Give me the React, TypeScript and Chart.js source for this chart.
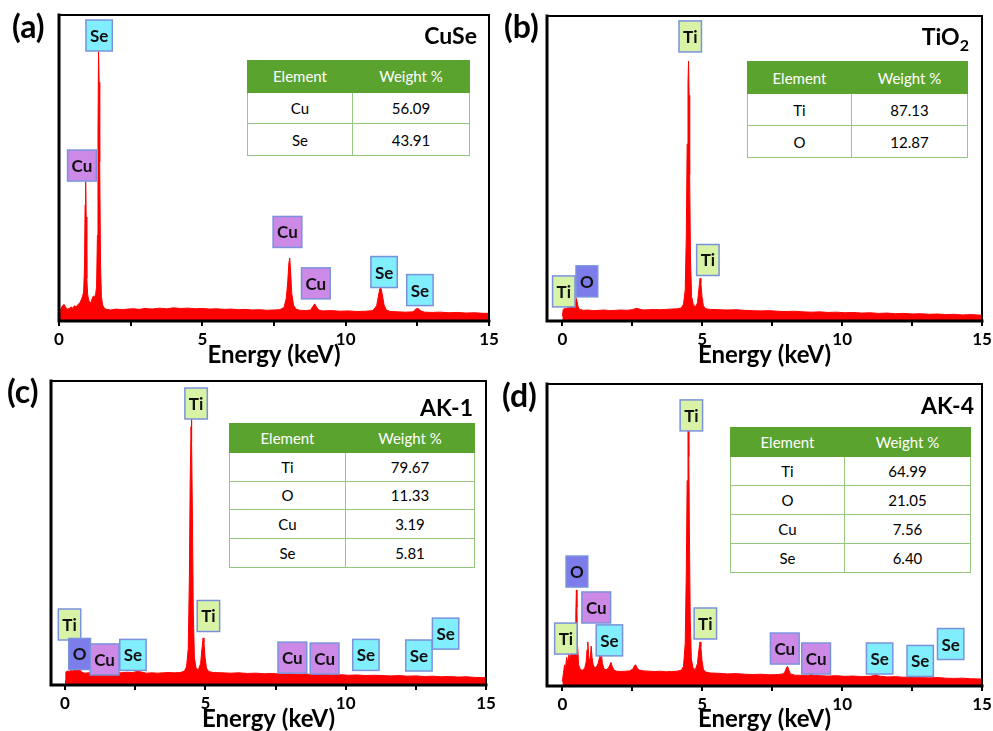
import React, { useEffect, useRef } from "react";
import { Chart, registerables } from "chart.js";

Chart.register(...registerables);

const PAGE_W = 993;
const PAGE_H = 731;
const FONT = "Lato, 'Open Sans', 'DejaVu Sans', sans-serif";

// ---------------- data ----------------
const xTickValues = [0, 2.5, 5, 7.5, 10, 12.5, 15];
const xTickLabels = ["0", "", "5", "", "10", "", "15"];

// (a) CuSe spectrum
const cuseEnergy = [0.0, 0.06, 0.12, 0.18, 0.24, 0.3, 0.36, 0.42, 0.48, 0.54, 0.6, 0.66, 0.72, 0.78, 0.82, 0.86, 0.89, 0.91, 0.93, 0.95, 0.97, 1.0, 1.04, 1.08, 1.12, 1.16, 1.2, 1.24, 1.28, 1.31, 1.34, 1.36, 1.38, 1.4, 1.42, 1.45, 1.48, 1.52, 1.58, 1.66, 1.8, 2.0, 2.2, 2.4, 2.6, 2.8, 3.0, 3.25, 3.5, 3.75, 4.0, 4.25, 4.5, 4.75, 5.0, 5.25, 5.5, 5.75, 6.0, 6.25, 6.5, 6.75, 7.0, 7.25, 7.5, 7.7, 7.85, 7.93, 7.98, 8.02, 8.05, 8.08, 8.12, 8.18, 8.26, 8.4, 8.6, 8.78, 8.86, 8.92, 8.98, 9.06, 9.2, 9.5, 9.8, 10.1, 10.4, 10.7, 10.95, 11.08, 11.14, 11.19, 11.23, 11.28, 11.34, 11.42, 11.55, 11.8, 12.1, 12.35, 12.45, 12.52, 12.6, 12.75, 13.0, 13.3, 13.6, 13.9, 14.2, 14.5, 14.8, 15.0];
const cuseCounts = [2.0, 3.8, 5.0, 5.4, 4.3, 3.9, 4.1, 4.6, 4.2, 5.0, 4.6, 5.4, 5.8, 7.0, 8.0, 9.5, 18, 38, 45.5, 34, 14, 8.5, 6.8, 5.8, 6.2, 7.4, 8.2, 7.6, 9.0, 11, 28, 62, 88.6, 78, 52, 18, 8, 5.2, 4.2, 3.8, 3.6, 3.9, 3.7, 3.9, 4.0, 3.8, 4.1, 3.9, 4.2, 4.0, 4.3, 4.1, 4.2, 4.0, 4.1, 3.9, 4.0, 3.8, 3.9, 3.7, 3.8, 3.6, 3.7, 3.5, 3.6, 3.7, 4.4, 7.5, 13, 19, 20.6, 16, 9, 5.2, 3.9, 3.5, 3.4, 3.6, 4.8, 5.6, 4.6, 3.6, 3.3, 3.4, 3.2, 3.3, 3.1, 3.2, 3.4, 5.0, 8.0, 10.6, 10.8, 8.5, 5.2, 3.6, 3.1, 3.0, 2.9, 3.0, 3.9, 4.2, 3.4, 2.9, 2.8, 2.9, 2.7, 2.8, 2.6, 2.7, 2.5, 2.5];

// (b) TiO2 spectrum
const tio2Energy = [0.0, 0.03, 0.08, 0.14, 0.2, 0.26, 0.32, 0.38, 0.43, 0.47, 0.5, 0.53, 0.56, 0.62, 0.75, 0.9, 1.1, 1.3, 1.5, 1.7, 1.9, 2.1, 2.3, 2.5, 2.65, 2.75, 2.9, 3.1, 3.3, 3.5, 3.7, 3.9, 4.1, 4.25, 4.33, 4.39, 4.43, 4.46, 4.49, 4.51, 4.53, 4.55, 4.58, 4.62, 4.68, 4.76, 4.83, 4.88, 4.92, 4.95, 4.99, 5.04, 5.12, 5.3, 5.6, 5.9, 6.2, 6.5, 6.8, 7.1, 7.4, 7.7, 8.0, 8.3, 8.6, 8.9, 9.2, 9.5, 9.8, 10.1, 10.4, 10.7, 11.0, 11.3, 11.6, 11.9, 12.2, 12.5, 12.8, 13.1, 13.4, 13.7, 14.0, 14.3, 14.6, 15.0];
const tio2Counts = [1.5, 3.8, 4.2, 4.0, 4.5, 4.4, 4.9, 5.2, 5.6, 6.4, 7.4, 6.2, 4.6, 3.8, 3.5, 3.6, 3.4, 3.5, 3.6, 3.4, 3.5, 3.6, 3.5, 3.7, 4.2, 3.9, 3.6, 3.7, 3.8, 3.7, 3.8, 3.9, 4.0, 4.3, 5.5, 10, 28, 58, 78, 85.2, 74, 48, 20, 8, 5.4, 4.6, 6.0, 10.5, 14.0, 12.5, 8, 5.0, 4.0, 3.8, 3.7, 3.6, 3.7, 3.5, 3.4, 3.3, 3.4, 3.2, 3.1, 3.2, 3.0, 2.9, 3.0, 2.8, 2.9, 2.7, 2.8, 2.6, 2.7, 2.5, 2.6, 2.4, 2.5, 2.3, 2.4, 2.2, 2.3, 2.1, 2.2, 2.0, 2.1, 1.9];

// (c) AK-1 spectrum
const ak1Energy = [0.0, 0.03, 0.08, 0.14, 0.2, 0.26, 0.32, 0.38, 0.43, 0.47, 0.5, 0.54, 0.6, 0.7, 0.85, 1.0, 1.15, 1.3, 1.45, 1.6, 1.8, 2.0, 2.2, 2.4, 2.6, 2.75, 2.9, 3.1, 3.3, 3.5, 3.7, 3.9, 4.1, 4.25, 4.33, 4.39, 4.43, 4.46, 4.49, 4.5, 4.52, 4.54, 4.57, 4.61, 4.67, 4.75, 4.83, 4.88, 4.92, 4.95, 4.99, 5.04, 5.12, 5.3, 5.6, 5.9, 6.2, 6.5, 6.8, 7.1, 7.4, 7.7, 8.0, 8.3, 8.6, 8.9, 9.2, 9.5, 9.8, 10.1, 10.4, 10.7, 11.0, 11.3, 11.6, 11.9, 12.2, 12.5, 12.8, 13.1, 13.4, 13.7, 14.0, 14.3, 14.6, 15.0];
const ak1Counts = [1.5, 4.2, 4.6, 4.4, 4.8, 4.6, 5.0, 5.4, 5.8, 6.4, 6.0, 5.0, 4.2, 3.9, 4.0, 4.3, 4.1, 4.4, 4.2, 4.0, 4.1, 4.0, 4.2, 4.1, 4.5, 4.2, 3.9, 4.0, 3.9, 4.0, 4.1, 4.0, 4.1, 4.5, 6.0, 12, 35, 68, 85, 88.8, 80, 55, 24, 9, 5.5, 5.0, 7.0, 12, 15.5, 14, 9, 5.5, 4.4, 4.1, 4.0, 3.9, 4.0, 3.8, 3.9, 3.7, 3.8, 3.6, 3.7, 3.5, 3.6, 3.4, 3.5, 3.3, 3.4, 3.2, 3.3, 3.1, 3.2, 3.1, 3.0, 3.1, 2.9, 3.0, 2.8, 2.9, 2.7, 2.8, 2.6, 2.7, 2.5, 2.4];

// (d) AK-4 spectrum
const ak4Energy = [0.0, 0.04, 0.08, 0.11, 0.15, 0.19, 0.23, 0.27, 0.31, 0.35, 0.39, 0.43, 0.46, 0.48, 0.5, 0.52, 0.54, 0.58, 0.64, 0.72, 0.8, 0.85, 0.88, 0.91, 0.94, 0.97, 1.0, 1.03, 1.06, 1.1, 1.16, 1.22, 1.28, 1.33, 1.36, 1.39, 1.43, 1.49, 1.56, 1.64, 1.7, 1.74, 1.78, 1.85, 1.95, 2.1, 2.25, 2.4, 2.52, 2.58, 2.62, 2.67, 2.75, 2.9, 3.1, 3.3, 3.5, 3.7, 3.9, 4.1, 4.25, 4.33, 4.39, 4.43, 4.46, 4.49, 4.5, 4.52, 4.54, 4.57, 4.61, 4.67, 4.75, 4.83, 4.88, 4.92, 4.95, 4.99, 5.04, 5.12, 5.3, 5.6, 5.9, 6.2, 6.5, 6.8, 7.1, 7.4, 7.7, 7.9, 7.97, 8.02, 8.05, 8.09, 8.15, 8.3, 8.6, 8.85, 8.9, 8.96, 9.2, 9.5, 9.8, 10.1, 10.4, 10.7, 11.0, 11.15, 11.22, 11.3, 11.6, 11.9, 12.2, 12.5, 12.8, 13.1, 13.4, 13.7, 14.0, 14.3, 14.6, 15.0];
const ak4Counts = [1.5, 4.5, 7.0, 5.5, 9.5, 7.5, 10.5, 8.5, 11.5, 9.5, 12.5, 11, 16, 24, 31.8, 26, 14, 7, 5.5, 5.2, 6.0, 8.0, 12, 14.6, 10, 8.0, 9.5, 13.2, 9.5, 7.0, 6.0, 6.4, 7.5, 9.5, 12.8, 11, 7.5, 5.6, 5.4, 5.8, 7.0, 7.8, 6.5, 5.2, 4.9, 4.8, 4.9, 5.0, 5.6, 6.8, 7.0, 6.0, 5.3, 5.0, 4.9, 4.8, 4.9, 4.7, 4.8, 4.9, 5.2, 6.5, 14, 38, 68, 84, 85.8, 76, 52, 22, 9, 6.0, 5.4, 7.5, 12, 14.6, 13, 8.5, 5.5, 4.6, 4.3, 4.2, 4.0, 4.1, 3.9, 3.8, 3.9, 3.7, 3.8, 4.0, 5.0, 6.2, 6.5, 5.4, 4.0, 3.6, 3.5, 3.6, 4.0, 3.6, 3.4, 3.3, 3.4, 3.2, 3.3, 3.1, 3.2, 3.5, 3.8, 3.3, 3.0, 3.1, 2.9, 3.0, 2.8, 2.7, 2.8, 2.6, 2.5, 2.6, 2.4, 2.3];

// peak labels: element, energy (keV), level (% of full scale)
const cuseMarkEls = ["Se", "Cu", "Cu", "Cu", "Se", "Se"];
const cuseMarkE = [1.4, 0.8, 7.97, 8.96, 11.34, 12.59];
const cuseMarkL = [93.3, 50.8, 29.1, 12.3, 16.0, 10.1];

const tio2MarkEls = ["Ti", "Ti", "Ti", "O"];
const tio2MarkE = [4.57, 5.2, 0.05, 0.875];
const tio2MarkL = [93.3, 20.0, 9.7, 13.0];

const ak1MarkEls = ["Ti", "Ti", "Ti", "O", "Cu", "Se", "Cu", "Cu", "Se", "Se", "Se"];
const ak1MarkE = [4.67, 5.11, 0.16, 0.52, 1.41, 2.42, 8.1, 9.25, 10.72, 12.61, 13.56];
const ak1MarkL = [92.6, 22.7, 19.9, 10.2, 8.4, 9.9, 9.0, 8.7, 9.9, 9.7, 16.9];

const ak4MarkEls = ["Ti", "O", "Cu", "Ti", "Se", "Ti", "Cu", "Cu", "Se", "Se", "Se"];
const ak4MarkE = [4.61, 0.52, 1.21, 0.125, 1.68, 5.11, 7.95, 9.07, 11.34, 12.79, 13.88];
const ak4MarkL = [89.6, 37.9, 26.0, 15.7, 15.1, 20.7, 12.4, 9.1, 9.1, 8.3, 13.9];

// composition tables
const cuseElements = ["Cu", "Se"];
const cuseWeights = ["56.09", "43.91"];
const tio2Elements = ["Ti", "O"];
const tio2Weights = ["87.13", "12.87"];
const ak1Elements = ["Ti", "O", "Cu", "Se"];
const ak1Weights = ["79.67", "11.33", "3.19", "5.81"];
const ak4Elements = ["Ti", "O", "Cu", "Se"];
const ak4Weights = ["64.99", "21.05", "7.56", "6.40"];

// ---------------- styles ----------------
const MARK_FILL: Record<string, string> = {
  Se: "#80eefc",
  Cu: "#cc8ae6",
  Ti: "#d8f2a6",
  O: "#7c7cea",
};
const MARK_EDGE = "#7a92dc";
const TABLE_GREEN = "#5ba32f";
const TABLE_LINE = "#95c77f";

type Area = { left: number; top: number; right: number; bottom: number };

interface PanelSpec {
  letter: string;
  sample: React.ReactNode;
  energy: number[];
  counts: number[];
  markEls: string[];
  markE: number[];
  markL: number[];
  xMin: number;
  area: Area;
  elements: string[];
  weights: string[];
  table: { left: number; top: number; width: number; height: number; col1: number };
  letterPos: { left: number; top: number };
  samplePos: { right: number; top: number };
}

const panels: PanelSpec[] = [
  {
    letter: "(a)",
    sample: "CuSe",
    energy: cuseEnergy,
    counts: cuseCounts,
    markEls: cuseMarkEls,
    markE: cuseMarkE,
    markL: cuseMarkL,
    xMin: 0,
    area: { left: 59, top: 15, right: 489, bottom: 321 },
    elements: cuseElements,
    weights: cuseWeights,
    table: { left: 247, top: 60, width: 223, height: 95, col1: 105 },
    letterPos: { left: 12, top: 10 },
    samplePos: { right: PAGE_W - 477, top: 24 },
  },
  {
    letter: "(b)",
    sample: (
      <span>
        TiO<span style={{ fontSize: 16, position: "relative", top: 6 }}>2</span>
      </span>
    ),
    energy: tio2Energy,
    counts: tio2Counts,
    markEls: tio2MarkEls,
    markE: tio2MarkE,
    markL: tio2MarkL,
    xMin: -0.55,
    area: { left: 547, top: 16, right: 982, bottom: 321 },
    elements: tio2Elements,
    weights: tio2Weights,
    table: { left: 747, top: 61, width: 221, height: 96, col1: 104 },
    letterPos: { left: 504, top: 10 },
    samplePos: { right: PAGE_W - 969, top: 25 },
  },
  {
    letter: "(c)",
    sample: "AK-1",
    energy: ak1Energy,
    counts: ak1Counts,
    markEls: ak1MarkEls,
    markE: ak1MarkE,
    markL: ak1MarkL,
    xMin: -0.5,
    area: { left: 51, top: 381, right: 486, bottom: 685 },
    elements: ak1Elements,
    weights: ak1Weights,
    table: { left: 229, top: 423, width: 246, height: 144, col1: 116 },
    letterPos: { left: 7, top: 375 },
    samplePos: { right: PAGE_W - 473, top: 396 },
  },
  {
    letter: "(d)",
    sample: "AK-4",
    energy: ak4Energy,
    counts: ak4Counts,
    markEls: ak4MarkEls,
    markE: ak4MarkE,
    markL: ak4MarkL,
    xMin: -0.55,
    area: { left: 547, top: 384, right: 982, bottom: 686 },
    elements: ak4Elements,
    weights: ak4Weights,
    table: { left: 730, top: 427, width: 241, height: 145, col1: 114 },
    letterPos: { left: 502, top: 379 },
    samplePos: { right: PAGE_W - 974, top: 394 },
  },
];

function tickLabel(v: number): string {
  const i = xTickValues.indexOf(v);
  return i >= 0 ? xTickLabels[i] : "";
}

function SpectrumCanvas({ spec }: { spec: PanelSpec }) {
  const ref = useRef<HTMLCanvasElement | null>(null);
  useEffect(() => {
    const canvas = ref.current;
    if (!canvas) return;
    const area = spec.area;
    const axisH = Math.min(46, PAGE_H - area.bottom);

    const overlayPlugin = {
      id: "frameAndMarks",
      afterDatasetsDraw(chart: any) {
        const { ctx, chartArea: a, scales } = chart;
        ctx.save();
        ctx.strokeStyle = "#000";
        ctx.lineCap = "square";
        ctx.lineWidth = 2;
        ctx.beginPath();
        ctx.moveTo(a.left, a.top);
        ctx.lineTo(a.right, a.top);
        ctx.lineTo(a.right, a.bottom);
        ctx.stroke();
        ctx.lineWidth = 3;
        ctx.beginPath();
        ctx.moveTo(a.left, a.top);
        ctx.lineTo(a.left, a.bottom);
        ctx.lineTo(a.right, a.bottom);
        ctx.stroke();

        ctx.font = `bold 17px ${FONT}`;
        ctx.textAlign = "center";
        ctx.textBaseline = "middle";
        spec.markEls.forEach((el, i) => {
          const cx = scales.x.getPixelForValue(spec.markE[i]);
          const cy = scales.y.getPixelForValue(spec.markL[i]);
          const w = ctx.measureText(el).width + 8;
          const h = 31;
          ctx.fillStyle = MARK_FILL[el];
          ctx.fillRect(cx - w / 2, cy - h / 2, w, h);
          ctx.lineWidth = 1.5;
          ctx.strokeStyle = MARK_EDGE;
          ctx.strokeRect(cx - w / 2, cy - h / 2, w, h);
          ctx.fillStyle = "#111";
          ctx.fillText(el, cx, cy + 1);
        });
        ctx.restore();
      },
    };

    const chart = new Chart(canvas, {
      type: "line",
      data: {
        datasets: [
          {
            data: spec.energy.map((e, i) => ({ x: e, y: spec.counts[i] })),
            borderColor: "#ff0000",
            backgroundColor: "#ff0000",
            borderWidth: 1,
            pointRadius: 0,
            fill: "origin",
            tension: 0,
          },
        ],
      },
      options: {
        responsive: false,
        animation: false,
        events: [],
        layout: {
          padding: {
            left: area.left,
            top: area.top,
            right: PAGE_W - area.right,
            bottom: PAGE_H - area.bottom - axisH,
          },
        },
        plugins: { legend: { display: false }, tooltip: { enabled: false } },
        scales: {
          x: {
            type: "linear",
            min: spec.xMin,
            max: 15,
            afterBuildTicks: (s: any) => {
              s.ticks = xTickValues.map((v) => ({ value: v }));
            },
            afterFit: (s: any) => {
              s.height = axisH;
              s.paddingLeft = 0;
              s.paddingRight = 0;
            },
            ticks: {
              callback: (v: any) => tickLabel(Number(v)),
              color: "#000",
              font: { family: FONT, size: 17, weight: "bold" },
              padding: 3,
              maxRotation: 0,
              autoSkip: false,
            },
            grid: {
              display: true,
              drawOnChartArea: false,
              drawTicks: true,
              tickLength: 5,
              color: "#000",
              lineWidth: 2,
            },
            border: { display: false },
            title: {
              display: true,
              text: "Energy (keV)",
              color: "#000",
              font: { family: FONT, size: 24, weight: "bold", lineHeight: 1 },
              padding: { top: 0, bottom: 0 },
            },
          },
          y: { type: "linear", min: 0, max: 100, display: false },
        },
      } as any,
      plugins: [overlayPlugin],
    });
    return () => chart.destroy();
  }, [spec]);

  return (
    <canvas
      ref={ref}
      width={PAGE_W}
      height={PAGE_H}
      style={{ position: "absolute", left: 0, top: 0, width: PAGE_W, height: PAGE_H }}
    />
  );
}

function CompTable({ spec }: { spec: PanelSpec }) {
  const t = spec.table;
  const rowH = t.height / (spec.elements.length + 1);
  const cell: React.CSSProperties = {
    border: `1px solid ${TABLE_LINE}`,
    padding: 0,
    height: rowH - 1,
    textAlign: "center",
    verticalAlign: "middle",
    color: "#000",
  };
  const head: React.CSSProperties = {
    ...cell,
    border: `1px solid ${TABLE_GREEN}`,
    background: TABLE_GREEN,
    color: "#fff",
    fontWeight: "normal",
    fontSize: 15,
  };
  return (
    <table
      style={{
        position: "absolute",
        left: t.left,
        top: t.top,
        width: t.width,
        height: t.height,
        borderCollapse: "collapse",
        tableLayout: "fixed",
        fontFamily: FONT,
        fontSize: 15,
        background: "#fff",
      }}
    >
      <colgroup>
        <col style={{ width: t.col1 }} />
        <col />
      </colgroup>
      <thead>
        <tr>
          <th style={head}>Element</th>
          <th style={head}>Weight %</th>
        </tr>
      </thead>
      <tbody>
        {spec.elements.map((el, i) => (
          <tr key={el}>
            <td style={cell}>{el}</td>
            <td style={cell}>{spec.weights[i]}</td>
          </tr>
        ))}
      </tbody>
    </table>
  );
}

function Panel({ spec }: { spec: PanelSpec }) {
  return (
    <>
      <SpectrumCanvas spec={spec} />
      <CompTable spec={spec} />
      <div
        style={{
          position: "absolute",
          left: spec.letterPos.left,
          top: spec.letterPos.top,
          fontFamily: FONT,
          fontWeight: "bold",
          fontSize: 32,
          lineHeight: "32px",
          color: "#000",
        }}
      >
        {spec.letter}
      </div>
      <div
        style={{
          position: "absolute",
          right: spec.samplePos.right,
          top: spec.samplePos.top,
          fontFamily: FONT,
          fontWeight: "bold",
          fontSize: 23,
          lineHeight: "23px",
          color: "#000",
          whiteSpace: "nowrap",
        }}
      >
        {spec.sample}
      </div>
    </>
  );
}

export default function App() {
  return (
    <div
      style={{
        position: "fixed",
        left: 0,
        top: 0,
        width: PAGE_W,
        height: PAGE_H,
        background: "#fff",
        overflow: "hidden",
      }}
    >
      {panels.map((p) => (
        <Panel key={p.letter} spec={p} />
      ))}
    </div>
  );
}
